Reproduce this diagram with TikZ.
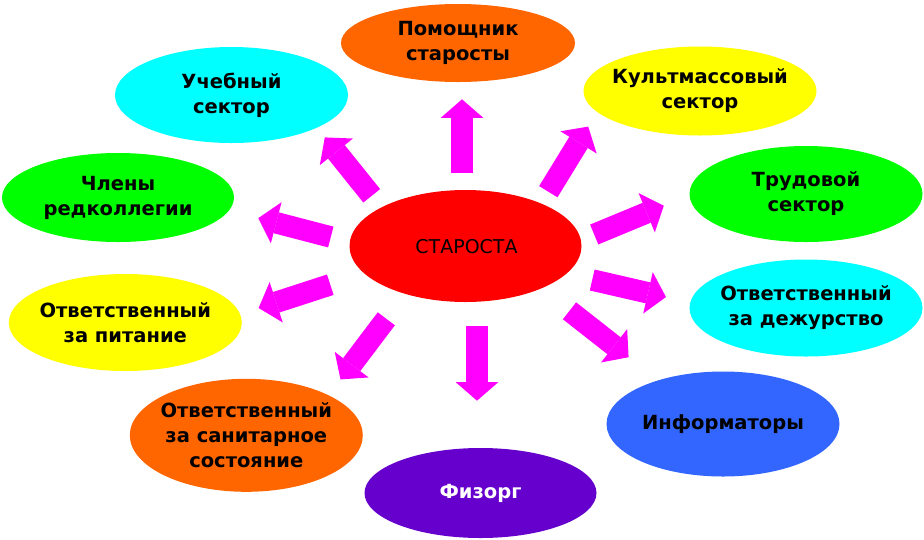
\documentclass[tikz,border=0pt]{standalone}
\usepackage{fontspec}
\setmainfont{DejaVu Sans}
\usetikzlibrary{shapes.geometric,arrows.meta}
\definecolor{cOrange}{HTML}{FF6600}
\definecolor{cCyan}{HTML}{00FFFF}
\definecolor{cYellow}{HTML}{FFFF00}
\definecolor{cGreen}{HTML}{00FF00}
\definecolor{cRed}{HTML}{FF0000}
\definecolor{cBlue}{HTML}{3366FF}
\definecolor{cPurple}{HTML}{6600CC}
\definecolor{cMag}{HTML}{FF00FF}
\begin{document}
\begin{tikzpicture}[x=1pt,y=-1pt,
  oval/.style={ellipse, draw=none, inner sep=0pt},
  lbl/.style={font=\bfseries\fontsize{19.5}{25}\selectfont, align=center, inner sep=0pt, text=black},
  ctr/.style={font=\fontsize{19}{23}\selectfont, align=center, inner sep=0pt, text=black},
  blk/.style={draw=cMag, line width=21.5pt, -{Triangle[width=42.5pt,length=18.5pt,line width=0pt]}}]
\useasboundingbox (0,0) rectangle (924,539);
\fill[white] (0,0) rectangle (924,539);
% satellites
\node[oval, fill=cOrange, minimum width=234, minimum height=78] (n1) at (458,43) {};
\node[lbl] (t1) at (n1) {Помощник\\старосты};
\node[oval, fill=cYellow, minimum width=233, minimum height=89] (n2) at (700,91) {};
\node[lbl] (t2) at (n2) {Культмассовый\\сектор};
\node[oval, fill=cGreen, minimum width=233, minimum height=96] (n3) at (806,194) {};
\node[lbl] (t3) at (n3) {Трудовой\\сектор};
\node[oval, fill=cCyan, minimum width=233, minimum height=97] (n4) at (806,308) {};
\node[lbl] (t4) at (n4) {Ответственный\\за дежурство};
\node[oval, fill=cBlue, minimum width=233, minimum height=105] (n5) at (723,424) {};
\node[lbl] (t5) at (n5) {Информаторы};
\node[oval, fill=cPurple, minimum width=232, minimum height=90] (n6) at (480.5,493) {};
\node[lbl, text=white] (t6) at (n6) {Физорг};
\node[oval, fill=cOrange, minimum width=233, minimum height=113] (n7) at (246.3,435.3) {};
\node[lbl] (t7) at (n7) {Ответственный\\за санитарное\\состояние};
\node[oval, fill=cYellow, minimum width=233, minimum height=97] (n8) at (125.3,322.5) {};
\node[lbl] (t8) at (n8) {Ответственный\\за питание};
\node[oval, fill=cGreen, minimum width=232, minimum height=89] (n9) at (118,197.5) {};
\node[lbl] (t9) at (n9) {Члены\\редколлегии};
\node[oval, fill=cCyan, minimum width=233, minimum height=96] (n10) at (231.5,95) {};
\node[lbl] (t10) at (n10) {Учебный\\сектор};
% centre
\node[oval, fill=cRed, minimum width=232, minimum height=112] (c) at (465.5,246) {};
\node[ctr] (ct) at (466.5,246.5) {СТАРОСТА};
% arrow end points
\coordinate (a1s) at (462,173);     \coordinate (a1e) at (462,99.3);
\coordinate (a2s) at (548.3,191.7); \coordinate (a2e) at (588.2,126.6);
\coordinate (a3s) at (594.2,234.5); \coordinate (a3e) at (663.8,205.7);
\coordinate (a4s) at (592.2,280);   \coordinate (a4e) at (666,297);
\coordinate (a5s) at (569.5,310.8); \coordinate (a5e) at (628.6,357.2);
\coordinate (a6s) at (477,326);     \coordinate (a6e) at (477,400.7);
\coordinate (a7s) at (386.3,318.8); \coordinate (a7e) at (340.5,379.4);
\coordinate (a8s) at (330.3,284.7); \coordinate (a8e) at (258.6,308);
\coordinate (a9s) at (330.8,237);   \coordinate (a9e) at (258.3,218.1);
\coordinate (a10s) at (371.7,195.8); \coordinate (a10e) at (324.8,137.4);
\foreach \i in {1,...,10} {\draw[blk] (a\i s) -- (a\i e);}
\end{tikzpicture}
\end{document}
